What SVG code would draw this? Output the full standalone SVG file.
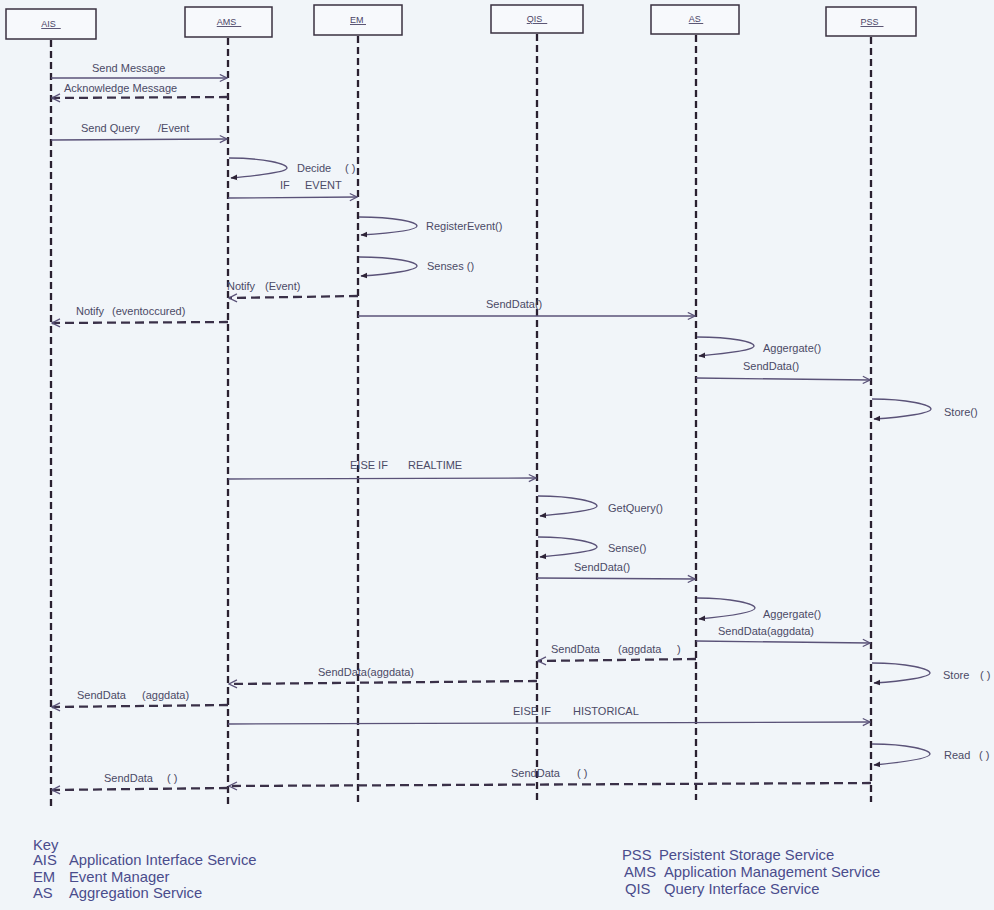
<svg xmlns="http://www.w3.org/2000/svg" width="994" height="910" viewBox="0 0 994 910">
<defs>
<marker id="open" viewBox="0 0 10 10" refX="9" refY="5" markerWidth="9" markerHeight="9" markerUnits="userSpaceOnUse" orient="auto">
<path d="M1,1 L9,5 L1,9" fill="none" stroke="#5a5278" stroke-width="1.3"/>
</marker>
<marker id="openD" viewBox="0 0 10 10" refX="9" refY="5" markerWidth="10" markerHeight="10" markerUnits="userSpaceOnUse" orient="auto">
<path d="M1,1 L9,5 L1,9" fill="none" stroke="#5a5278" stroke-width="1.3"/>
</marker>
<marker id="fill" viewBox="0 0 10 10" refX="9" refY="5" markerWidth="7" markerHeight="7" markerUnits="userSpaceOnUse" orient="auto">
<path d="M0,1 L10,5 L0,9 Z" fill="#2e2438"/>
</marker>
<style>
.bg{fill:#f1f5f9}
.box{fill:#f7f9fc;stroke:#3a3040;stroke-width:1.5}
.bt{font-family:"Liberation Sans",Arial,sans-serif;font-size:9px;fill:#4a4466;text-decoration:underline;text-anchor:middle}
.life{stroke:#2a2030;stroke-width:2.3;stroke-dasharray:7 4;fill:none}
.msg{stroke:#5a5278;stroke-width:1.3;fill:none;marker-end:url(#open)}
.ret{stroke:#3a3048;stroke-width:2.3;stroke-dasharray:9 5;fill:none;marker-end:url(#openD)}
.loop{stroke:#5a5278;stroke-width:1.3;fill:none;marker-end:url(#fill)}
.lb{font-family:"Liberation Sans",Arial,sans-serif;font-size:11px;fill:#4b4a66}
.key{font-family:"Liberation Sans",Arial,sans-serif;font-size:14.8px;fill:#4a4c8c}
</style>
</defs>
<rect class="bg" x="0" y="0" width="994" height="910"/>

<g id="AIS">
<rect class="box" x="6" y="9" width="90" height="30"/>
<text class="bt" x="51" y="27">AIS&#160;&#160;</text>
<line class="life" x1="51" y1="40" x2="51" y2="808"/>
</g>
<g id="AMS">
<rect class="box" x="185" y="7" width="87" height="30"/>
<text class="bt" x="229" y="25">AMS&#160;&#160;</text>
<line class="life" x1="228" y1="38" x2="228" y2="805"/>
</g>
<g id="EM">
<rect class="box" x="314" y="5" width="88" height="30"/>
<text class="bt" x="358" y="23">EM&#160;</text>
<line class="life" x1="358" y1="36" x2="358" y2="803"/>
</g>
<g id="QIS">
<rect class="box" x="491" y="5" width="92" height="28"/>
<text class="bt" x="537" y="22">QIS&#160;&#160;</text>
<line class="life" x1="537" y1="34" x2="537" y2="800"/>
</g>
<g id="AS">
<rect class="box" x="651" y="5" width="88" height="29"/>
<text class="bt" x="696" y="22">AS&#160;</text>
<line class="life" x1="696" y1="35" x2="696" y2="800"/>
</g>
<g id="PSS">
<rect class="box" x="826" y="7" width="90" height="29"/>
<text class="bt" x="872" y="25">PSS&#160;&#160;</text>
<line class="life" x1="871" y1="37" x2="871" y2="802"/>
</g>

<g id="connectors">
<line class="msg" x1="51" y1="78" x2="227" y2="78"/>
<line class="ret" x1="228" y1="97" x2="52" y2="98"/>
<line class="msg" x1="51" y1="140" x2="227" y2="139"/>
<path class="loop" d="M229,158 C265,158 287,164 287,168 C287,172 262,175 231,178"/>
<line class="msg" x1="228" y1="198" x2="357" y2="197"/>
<path class="loop" d="M359,217 C395,217 417,222 417,226 C417,230 392,233 361,235"/>
<path class="loop" d="M359,257 C395,257 417,262 417,266 C417,270 392,274 361,276"/>
<line class="ret" x1="358" y1="296" x2="229" y2="298"/>
<line class="msg" x1="358" y1="316" x2="695" y2="316"/>
<line class="ret" x1="228" y1="322" x2="52" y2="323"/>
<path class="loop" d="M697,337 C733,337 754,342 754,346 C754,350 730,353 699,356"/>
<line class="msg" x1="696" y1="378" x2="870" y2="380"/>
<path class="loop" d="M872,399 C908,399 931,405 931,409 C931,413 905,417 874,419"/>
<line class="msg" x1="228" y1="479" x2="536" y2="478"/>
<path class="loop" d="M538,496 C574,496 597,502 597,506 C597,510 571,513 540,516"/>
<path class="loop" d="M538,537 C574,537 597,543 597,547 C597,551 571,554 540,557"/>
<line class="msg" x1="537" y1="578" x2="695" y2="579"/>
<path class="loop" d="M697,598 C733,598 755,604 755,608 C755,612 730,616 699,619"/>
<line class="msg" x1="696" y1="641" x2="870" y2="643"/>
<line class="ret" x1="696" y1="659" x2="538" y2="661"/>
<path class="loop" d="M872,663 C908,663 930,669 930,673 C930,677 905,681 874,683"/>
<line class="ret" x1="537" y1="681" x2="229" y2="684"/>
<line class="ret" x1="228" y1="705" x2="52" y2="707"/>
<line class="msg" x1="228" y1="724" x2="870" y2="722"/>
<path class="loop" d="M872,744 C908,744 930,750 930,754 C930,758 905,762 874,765"/>
<line class="ret" x1="871" y1="783" x2="229" y2="786"/>
<line class="ret" x1="228" y1="788" x2="52" y2="790"/>
</g>

<g id="labels">
<text class="lb" x="92" y="72">Send Message</text>
<text class="lb" x="64" y="92">Acknowledge Message</text>
<text class="lb" y="132"><tspan x="81">Send Query</tspan><tspan x="158">/Event</tspan></text>
<text class="lb" y="172"><tspan x="297">Decide</tspan><tspan x="345">( )</tspan></text>
<text class="lb" y="189"><tspan x="280">IF</tspan><tspan x="305">EVENT</tspan></text>
<text class="lb" x="426" y="230">RegisterEvent()</text>
<text class="lb" x="427" y="270">Senses ()</text>
<text class="lb" y="290"><tspan x="227">Notify</tspan><tspan x="265">(Event)</tspan></text>
<text class="lb" x="486" y="308">SendData()</text>
<text class="lb" y="315"><tspan x="76">Notify</tspan><tspan x="112">(eventoccured)</tspan></text>
<text class="lb" x="763" y="352">Aggergate()</text>
<text class="lb" x="743" y="370">SendData()</text>
<text class="lb" x="944" y="416">Store()</text>
<text class="lb" y="469"><tspan x="350">EISE IF</tspan><tspan x="408">REALTIME</tspan></text>
<text class="lb" x="608" y="512">GetQuery()</text>
<text class="lb" x="608" y="552">Sense()</text>
<text class="lb" x="574" y="571">SendData()</text>
<text class="lb" x="763" y="618">Aggergate()</text>
<text class="lb" x="718" y="635">SendData(aggdata)</text>
<text class="lb" y="653"><tspan x="551">SendData</tspan><tspan x="618">(aggdata</tspan><tspan x="677">)</tspan></text>
<text class="lb" x="318" y="676">SendData(aggdata)</text>
<text class="lb" y="679"><tspan x="943">Store</tspan><tspan x="980">( )</tspan></text>
<text class="lb" y="699"><tspan x="77">SendData</tspan><tspan x="142">(aggdata)</tspan></text>
<text class="lb" y="715"><tspan x="513">EISE IF</tspan><tspan x="573">HISTORICAL</tspan></text>
<text class="lb" y="759"><tspan x="944">Read</tspan><tspan x="979">( )</tspan></text>
<text class="lb" y="777"><tspan x="511">SendData</tspan><tspan x="577">( )</tspan></text>
<text class="lb" y="782"><tspan x="104">SendData</tspan><tspan x="167">( )</tspan></text>
</g>

<g id="key">
<text class="key" x="33" y="850">Key</text>
<text class="key" y="865"><tspan x="33">AIS</tspan><tspan x="69">Application Interface Service</tspan></text>
<text class="key" y="882"><tspan x="33">EM</tspan><tspan x="69">Event Manager</tspan></text>
<text class="key" y="898"><tspan x="33">AS</tspan><tspan x="69">Aggregation Service</tspan></text>
<text class="key" y="860"><tspan x="622">PSS</tspan><tspan x="659">Persistent Storage Service</tspan></text>
<text class="key" y="877"><tspan x="624">AMS</tspan><tspan x="664">Application Management Service</tspan></text>
<text class="key" y="894"><tspan x="625">QIS</tspan><tspan x="664">Query Interface Service</tspan></text>
</g>
</svg>
